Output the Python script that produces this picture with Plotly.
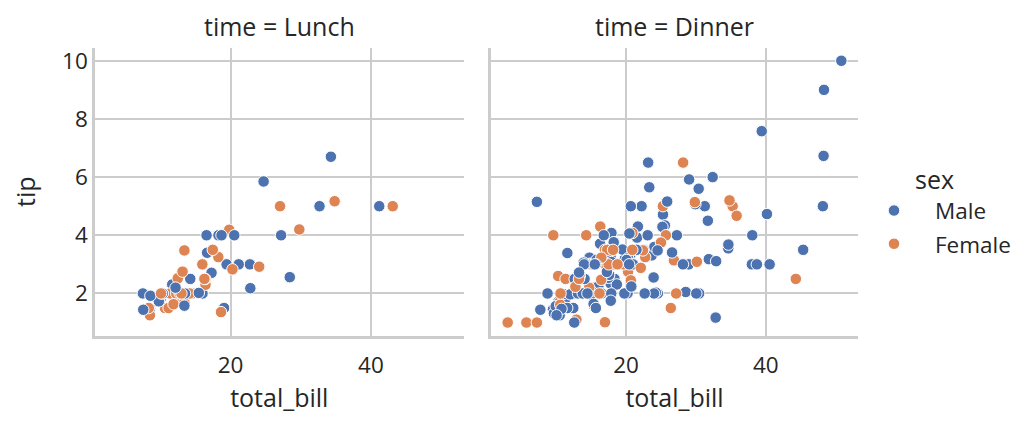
import plotly.graph_objects as go

# --- data (tips: total_bill, tip, sex, time) ---
total_bill = [16.99,10.34,21.01,23.68,24.59,25.29,8.77,26.88,15.04,14.78,10.27,35.26,15.42,18.43,14.83,21.58,10.33,16.29,16.97,20.65,
17.92,20.29,15.77,39.42,19.82,17.81,13.37,12.69,21.7,19.65,9.55,18.35,15.06,20.69,17.78,24.06,16.31,16.93,18.69,31.27,
16.04,17.46,13.94,9.68,30.4,18.29,22.23,32.4,28.55,18.04,12.54,10.29,34.81,9.94,25.56,19.49,38.01,26.41,11.24,48.27,
20.29,13.81,11.02,18.29,17.59,20.08,16.45,3.07,20.23,15.01,12.02,17.07,26.86,25.28,14.73,10.51,17.92,27.2,22.76,17.29,
19.44,16.66,10.07,32.68,15.98,34.83,13.03,18.28,24.71,21.16,28.97,22.49,5.75,16.32,22.75,40.17,27.28,12.03,21.01,12.46,
11.35,15.38,44.3,22.42,20.92,15.36,20.49,25.21,18.24,14.31,14.0,7.25,38.07,23.95,25.71,17.31,29.93,10.65,12.43,24.08,
11.69,13.42,14.26,15.95,12.48,29.8,8.52,14.52,11.38,22.82,19.08,20.27,11.17,12.26,18.26,8.51,10.33,14.15,16.0,13.16,
17.47,34.3,41.19,27.05,16.43,8.35,18.64,11.87,9.78,7.51,14.07,13.13,17.26,24.55,19.77,29.85,48.17,25.0,13.39,16.49,
21.5,12.66,16.21,13.81,17.51,24.52,20.76,31.71,10.59,10.63,50.81,15.81,7.25,31.85,16.82,32.9,17.89,14.48,9.6,34.63,
34.65,23.33,45.35,23.17,40.55,20.69,20.9,30.46,18.15,23.1,15.69,19.81,28.44,15.48,16.58,7.56,10.34,43.11,13.0,13.51,
18.71,12.74,13.0,16.4,20.53,16.47,26.59,38.73,24.27,12.76,30.06,25.89,48.33,13.27,28.17,12.9,28.15,11.59,7.74,30.14,
12.16,13.42,8.58,15.98,13.42,16.27,10.09,20.45,13.28,22.12,24.01,15.69,11.61,10.77,15.53,10.07,12.6,32.83,35.83,29.03,
27.18,22.67,17.82,18.78]

tip = [1.01,1.66,3.5,3.31,3.61,4.71,2.0,3.12,1.96,3.23,1.71,5.0,1.57,3.0,3.02,3.92,1.67,3.71,3.5,3.35,
4.08,2.75,2.23,7.58,3.18,2.34,2.0,2.0,4.3,3.0,1.45,2.5,3.0,2.45,3.27,3.6,2.0,3.07,2.31,5.0,
2.24,2.54,3.06,1.32,5.6,3.0,5.0,6.0,2.05,3.0,2.5,2.6,5.2,1.56,4.34,3.51,3.0,1.5,1.76,6.73,
3.21,2.0,1.98,3.76,2.64,3.15,2.47,1.0,2.01,2.09,1.97,3.0,3.14,5.0,2.2,1.25,3.08,4.0,3.0,2.71,
3.0,3.4,1.83,5.0,2.03,5.17,2.0,4.0,5.85,3.0,3.0,3.5,1.0,4.3,3.25,4.73,4.0,1.5,3.0,1.5,
2.5,3.0,2.5,3.48,4.08,1.64,4.06,4.29,3.76,4.0,3.0,1.0,4.0,2.55,4.0,3.5,5.07,1.5,1.8,2.92,
2.31,1.68,2.5,2.0,2.52,4.2,1.48,2.0,2.0,2.18,1.5,2.83,1.5,2.0,3.25,1.25,2.0,2.0,2.0,2.75,
3.5,6.7,5.0,5.0,2.3,1.5,1.36,1.63,1.73,2.0,2.5,2.0,2.74,2.0,2.0,5.14,5.0,3.75,2.61,2.0,
3.5,2.5,2.0,2.0,3.0,3.48,2.24,4.5,1.61,2.0,10.0,3.16,5.15,3.18,4.0,3.11,2.0,2.0,4.0,3.55,
3.68,5.65,3.5,6.5,3.0,5.0,3.5,2.0,3.5,4.0,1.5,4.19,2.56,2.02,4.0,1.44,2.0,5.0,2.0,2.0,
4.0,2.01,2.0,2.5,4.0,3.23,3.41,3.0,2.03,2.23,2.0,5.16,9.0,2.5,6.5,1.1,3.0,1.5,1.44,3.09,
2.2,3.48,1.92,3.0,1.58,2.5,2.0,3.0,2.72,2.88,2.0,3.0,3.39,1.47,3.0,1.25,1.0,1.17,4.67,5.92,
2.0,2.0,1.75,3.0]

sex = ["F","M","M","M","F","M","M","M","M","M","M","F","M","M","F","M","F","M","F","M",
"M","F","F","M","M","M","M","M","M","F","M","M","F","F","M","M","M","F","M","M",
"M","M","M","M","M","M","M","M","M","M","M","F","F","M","M","M","M","F","M","M",
"M","M","M","M","M","M","F","F","M","M","M","F","F","F","F","M","M","M","M","M",
"M","M","F","M","M","F","M","M","M","M","M","M","F","F","F","M","M","M","M","M",
"F","F","F","F","F","M","M","M","M","F","M","F","M","M","F","F","M","F","F","F",
"M","F","M","M","F","F","M","F","F","M","M","F","F","F","F","F","F","F","M","F",
"F","M","M","F","F","F","F","F","M","M","M","M","M","M","M","F","M","F","F","M",
"M","M","F","M","F","M","M","M","F","F","M","M","M","M","M","M","M","M","F","M",
"M","M","M","M","M","M","F","M","F","M","M","F","M","M","M","M","M","F","F","M",
"M","F","F","F","M","F","M","M","M","F","M","M","M","F","F","F","M","M","M","F",
"M","F","M","F","M","F","F","M","M","F","M","M","M","M","M","M","M","M","F","M",
"F","M","M","F"]

time = ["D"]*77 + ["L"]*13 + ["D"]*27 + ["L"]*33 + ["D"]*41 + ["L"]*14 + ["D"]*15 + ["L"]*7 + ["D"]*16 + ["D"]

sex_names = {"M": "Male", "F": "Female"}
time_names = {"L": "Lunch", "D": "Dinner"}
colors = {"M": "#4c72b0", "F": "#dd8452"}
facets = ["L", "D"]

TXT = "#262626"
GRID = "#cccccc"
FONT = "Open Sans"
TICK_SIZE = 22.5
LABEL_SIZE = 25

fig = go.Figure()

x_domains = [[95/1029, 463.5/1029], [491/1029, 858/1029]]
y_domain = [1 - 335/425, 1 - 45/425]

for i, f in enumerate(facets):
    xs = [b for b, t in zip(total_bill, time) if t == f]
    ys = [v for v, t in zip(tip, time) if t == f]
    cs = [colors[s] for s, t in zip(sex, time) if t == f]
    fig.add_trace(go.Scatter(
        x=xs, y=ys, mode="markers", showlegend=False,
        xaxis="x" if i == 0 else "x2", yaxis="y" if i == 0 else "y2",
        marker=dict(size=11.5, color=cs, line=dict(color="white", width=1)),
    ))

for k in ["M", "F"]:
    fig.add_trace(go.Scatter(
        x=[None], y=[None], mode="markers", name=sex_names[k], legendgroup=k,
        marker=dict(size=11.5, color=colors[k], line=dict(color="white", width=1)),
    ))

xmin, xmax = min(total_bill), max(total_bill)
ymin, ymax = min(tip), max(tip)
xr = [xmin - 0.05*(xmax-xmin), xmax + 0.05*(xmax-xmin)]
yr = [ymin - 0.05*(ymax-ymin), ymax + 0.05*(ymax-ymin)]

axis_common = dict(
    showgrid=True, gridcolor=GRID, gridwidth=1.8,
    showline=True, linecolor=GRID, linewidth=2.5,
    zeroline=False, ticks="", tickfont=dict(family=FONT, size=TICK_SIZE, color=TXT),
)

xtitle = dict(text="total_bill", font=dict(family=FONT, size=LABEL_SIZE, color=TXT), standoff=8)

fig.update_layout(
    width=1029, height=425,
    margin=dict(l=0, r=0, t=0, b=0),
    paper_bgcolor="white", plot_bgcolor="white",
    font=dict(family=FONT, color=TXT),
    xaxis=dict(domain=x_domains[0], range=xr, tickvals=[20, 40], anchor="y",
               ticklabelstandoff=8, title=xtitle, **axis_common),
    xaxis2=dict(domain=x_domains[1], range=xr, tickvals=[20, 40], anchor="y2",
                ticklabelstandoff=8, title=xtitle, **axis_common),
    yaxis=dict(domain=y_domain, range=yr, tickvals=[2, 4, 6, 8, 10], anchor="x",
               title=dict(text="tip", font=dict(family=FONT, size=LABEL_SIZE, color=TXT), standoff=20),
               **axis_common),
    yaxis2=dict(domain=y_domain, range=yr, tickvals=[2, 4, 6, 8, 10], anchor="x2",
                showticklabels=False, **axis_common),
    legend=dict(
        title=dict(text="sex", side="top center", font=dict(family=FONT, size=LABEL_SIZE, color=TXT)),
        font=dict(family=FONT, size=TICK_SIZE, color=TXT),
        x=853/1029, y=1 - 155/425, xanchor="left", yanchor="top",
        itemwidth=72, tracegroupgap=1, bgcolor="rgba(0,0,0,0)",
    ),
)

for i, f in enumerate(facets):
    d = x_domains[i]
    fig.add_annotation(
        text=f"time = {time_names[f]}", xref="paper", yref="paper",
        x=(d[0] + d[1]) / 2, y=1 - 23/425, xanchor="center", yanchor="middle",
        showarrow=False, font=dict(family=FONT, size=LABEL_SIZE, color=TXT),
    )

fig.write_html("out.html")
